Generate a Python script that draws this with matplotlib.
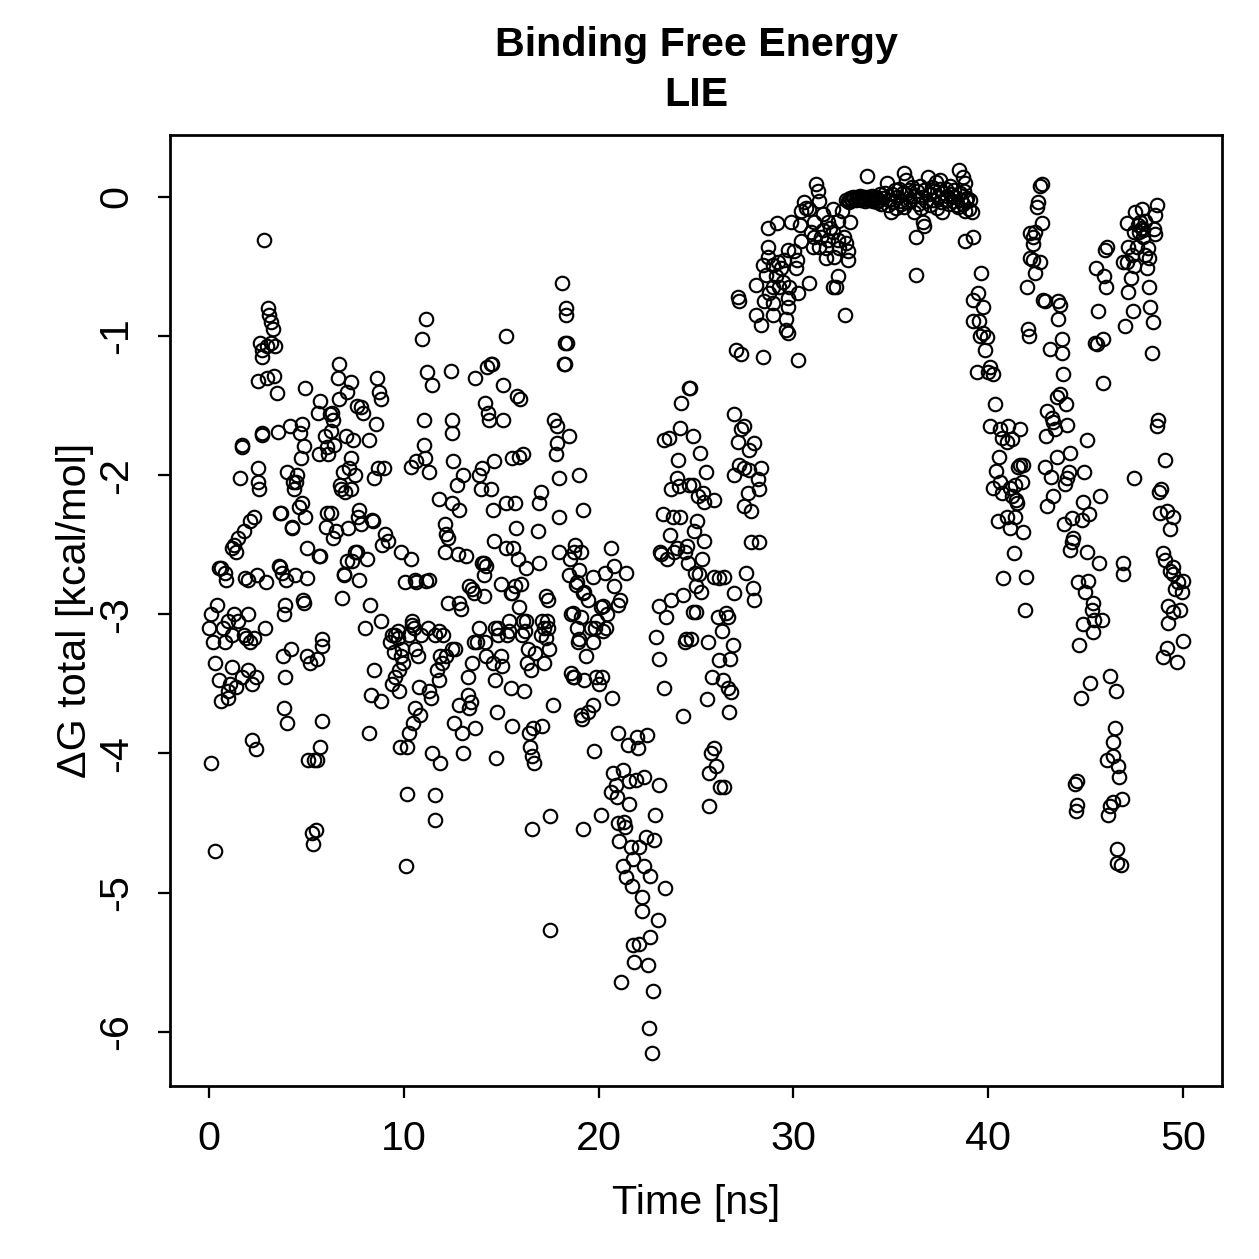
import numpy as np
import matplotlib
matplotlib.use("Agg")
import matplotlib.pyplot as plt

plt.rcParams['font.family'] = ['Liberation Sans', 'DejaVu Sans']
plt.rcParams['axes.unicode_minus'] = False

# (time [ns], dG [kcal/mol]), grouped by time window
seg_00_02 = [(0.1,-4.07),(0.3,-4.70),(0.0,-3.10),(0.1,-3.00),(0.2,-3.20),(0.3,-3.35),(0.4,-2.93),(0.5,-3.47),
    (0.6,-2.67),(0.6,-3.62),(0.7,-3.10),(0.8,-2.70),(0.8,-3.20),(0.9,-2.75),(1.0,-3.55),(1.0,-3.05),(1.0,-3.60),
    (1.1,-3.50),(1.2,-3.38),(1.2,-3.15),(1.3,-2.50),(1.3,-3.00),(1.4,-2.55),(1.4,-3.52),(1.5,-2.45),(1.5,-3.05),
    (1.6,-2.02),(1.7,-1.80),(1.7,-1.78),(1.7,-3.45),(1.8,-3.15),(1.8,-2.40),(1.9,-3.17),(2.0,-2.75),(2.0,-3.40),
    (2.0,-3.00),(2.1,-3.20),(2.2,-3.50),(2.2,-3.90),(2.3,-2.30),(2.3,-3.17),(2.4,-3.45),(2.4,-3.97),(2.1,-2.33),
    (1.18,-2.52),(1.84,-2.74),(0.51,-2.67)]
seg_02_05 = [(2.5,-1.95),(2.5,-2.05),(2.55,-2.1),(2.5,-1.32),(2.6,-1.05),(2.7,-1.1),(2.7,-1.15),(2.7,-1.7),
    (2.8,-0.31),(2.45,-2.72),(2.9,-3.1),(2.95,-2.77),(3.0,-1.07),(3.0,-1.3),(3.05,-0.8),(3.1,-0.85),(3.2,-0.9),
    (3.2,-1.05),(3.3,-0.95),(3.35,-1.29),(3.4,-1.07),(3.5,-1.41),(3.55,-1.69),(3.6,-2.65),(3.7,-2.27),(3.75,-2.7),
    (3.85,-3.0),(3.9,-2.93),(3.8,-3.3),(3.95,-2.75),(3.9,-3.45),(3.85,-3.67),(4.0,-3.78),(4.0,-1.98),(4.15,-1.65),
    (4.3,-2.05),(4.25,-2.37),(4.2,-3.25),(4.35,-2.1),(4.45,-2.05),(4.4,-2.72),(4.5,-2.0),(4.65,-1.7),(4.7,-1.88),
    (2.72,-1.71),(3.64,-2.27),(3.64,-2.66),(4.25,-2.38)]
seg_05_07 = [(4.76,-2.2),(4.8,-1.63),(4.85,-2.9),(4.9,-2.92),(5.05,-2.52),(4.92,-1.37),(4.95,-2.3),(5.05,-3.3),
    (5.2,-3.35),(5.1,-4.05),(5.3,-4.57),(5.35,-4.65),(5.4,-4.05),(5.5,-4.55),(5.55,-4.05),(5.55,-3.32),(5.6,-1.55),
    (5.65,-1.85),(5.7,-3.95),(5.8,-3.18),(5.8,-3.23),(5.65,-2.58),(5.8,-3.77),(5.7,-1.47),(6.05,-1.8),(5.95,-1.72),
    (6.0,-2.37),(6.1,-1.85),(6.05,-2.27),(6.2,-1.56),(6.25,-1.68),(6.35,-1.6),(6.3,-1.55),(6.35,-2.45),(6.4,-1.78),
    (6.5,-2.4),(6.6,-1.3),(5.02,-2.74),(4.87,-1.79),(4.61,-2.23),(5.69,-2.58),(6.28,-2.27)]
seg_07_09 = [(6.7,-1.2),(6.65,-1.45),(6.8,-2.1),(6.85,-2.88),(6.9,-1.98),(6.95,-2.72),(7.05,-1.72),(7.1,-1.4),
    (7.1,-2.62),(7.2,-1.95),(7.3,-1.88),(7.27,-1.33),(7.3,-2.1),(7.4,-1.75),(7.5,-2.55),(7.5,-2.0),(7.6,-2.55),
    (7.65,-2.3),(7.7,-2.25),(7.6,-1.5),(7.7,-2.75),(7.8,-2.35),(7.9,-1.55),(8.0,-3.1),(8.1,-2.6),(8.25,-2.93),
    (8.2,-1.75),(8.35,-2.32),(8.45,-2.02),(8.6,-1.3),(8.55,-1.63),(8.4,-2.33),(8.45,-3.4),(8.2,-3.85),(8.3,-3.58),
    (8.7,-1.95),(8.75,-1.4),(8.85,-1.45),(8.9,-2.5),(9.0,-1.95),(8.85,-3.05),(8.85,-3.62),(9.05,-2.42),(9.2,-2.47),
    (9.3,-3.2),(9.4,-3.15),(6.71,-2.07),(7.0,-2.12),(7.16,-2.38),(7.79,-1.51),(7.35,-2.62),(6.92,-2.71)]
seg_09_12 = [(9.4,-3.5),(9.5,-3.27),(9.55,-3.45),(9.55,-3.15),(9.7,-3.17),(9.7,-3.12),(9.75,-3.55),(9.8,-3.95),
    (9.75,-3.4),(9.85,-2.55),(9.85,-3.3),(9.9,-3.25),(9.95,-3.35),(10.1,-4.81),(10.15,-3.95),(10.15,-4.29),
    (10.05,-2.77),(10.25,-3.15),(10.35,-2.6),(10.35,-1.94),(10.4,-3.05),(10.25,-3.85),(10.45,-3.78),(10.55,-3.1),
    (10.6,-3.67),(10.6,-2.75),(10.6,-3.25),(10.75,-3.3),(10.65,-1.9),(10.8,-3.52),(10.85,-3.72),(10.95,-1.02),
    (10.9,-3.15),(11.05,-1.78),(11.05,-1.6),(11.1,-1.88),(11.15,-0.88),(11.2,-1.26),(11.3,-2.75),(11.3,-3.55),
    (11.4,-3.6),(11.45,-4.0),(11.6,-4.3),(11.6,-4.48),(11.45,-1.35),(11.6,-3.15),(11.7,-3.4),(11.8,-3.47),
    (11.85,-4.07),(11.85,-3.3),(11.8,-2.17),(11.32,-1.98),(11.15,-2.76),(10.62,-2.77),(10.4,-3.08),(11.25,-3.1),
    (11.8,-3.12)]
seg_12_15 = [(12.1,-2.35),(12.15,-2.42),(12.1,-2.55),(12.25,-2.92),(12.25,-2.45),(11.95,-3.35),(12.15,-3.3),
    (12.4,-1.25),(12.45,-2.2),(12.45,-1.6),(12.5,-1.7),(12.5,-3.25),(12.65,-3.25),(12.6,-3.78),(12.75,-2.07),
    (12.55,-1.9),(12.8,-2.57),(12.85,-2.25),(12.85,-2.92),(13.0,-3.85),(12.85,-3.65),(13.05,-4.0),(13.05,-2.0),
    (13.2,-2.58),(13.3,-3.45),(13.3,-3.58),(13.35,-3.67),(13.45,-3.63),(13.35,-2.8),(13.5,-3.35),(13.6,-2.85),
    (13.6,-3.2),(13.67,-3.82),(13.67,-1.3),(13.78,-3.2),(13.88,-2.0),(13.98,-2.1),(14.04,-1.95),(14.04,-2.63),
    (14.14,-2.87),(14.14,-2.63),(14.19,-3.2),(14.19,-1.48),(14.29,-1.22),(14.34,-1.55),(14.24,-3.3),(14.24,-2.65),
    (14.5,-1.2),(14.4,-1.6),(14.5,-2.1),(14.55,-1.2),(14.6,-2.25),(14.65,-1.9),(14.6,-3.35),(14.7,-3.47),
    (14.75,-4.03),(14.65,-2.47),(14.86,-3.1),(14.8,-3.7),(14.86,-3.15),(12.0,-3.15),(12.96,-2.96),(13.5,-2.82),
    (14.1,-2.72),(13.85,-3.1),(14.7,-3.1)]
seg_15_17 = [(15.0,-2.78),(15.0,-3.3),(15.05,-3.37),(15.1,-1.35),(15.25,-1.0),(15.25,-2.2),(15.25,-2.52),
    (15.3,-3.15),(15.4,-3.05),(15.5,-3.53),(15.55,-3.8),(15.55,-1.88),(15.55,-2.85),(15.7,-2.8),(15.7,-2.2),
    (15.8,-1.43),(15.75,-2.38),(15.98,-1.45),(15.93,-1.87),(15.88,-2.6),(15.93,-2.95),(16.14,-3.05),(16.19,-3.55),
    (16.09,-3.15),(16.29,-3.05),(16.24,-3.12),(16.29,-2.67),(16.34,-3.35),(16.44,-3.85),(16.39,-3.25),(16.6,-4.54),
    (16.5,-3.95),(16.6,-4.02),(16.7,-4.07),(16.65,-3.82),(16.75,-3.28),(16.55,-3.4),(16.96,-2.2),(16.91,-2.4),
    (17.06,-2.12),(17.06,-3.15),(17.11,-3.05),(17.21,-3.1),(17.21,-3.35),(17.11,-3.8),(17.31,-3.17),(17.37,-3.05),
    (17.47,-3.25),(17.42,-2.9),(17.52,-4.45),(17.52,-5.27),(17.42,-3.1),(15.11,-1.6),(16.14,-1.85),(15.62,-2.52),
    (16.0,-2.78),(15.5,-2.85),(15.4,-3.12),(16.96,-2.63),(17.32,-2.87)]
seg_17_20 = [(17.67,-3.65),(17.73,-1.6),(17.88,-1.65),(17.98,-2.55),(17.95,-2.3),(18.13,-0.62),(18.34,-0.8),
    (18.34,-0.85),(18.29,-1.05),(18.29,-1.2),(18.39,-1.05),(18.24,-1.2),(18.49,-1.72),(18.49,-2.72),(18.6,-3.0),
    (18.75,-2.55),(18.8,-2.5),(18.55,-2.6),(18.6,-3.42),(18.7,-3.45),(18.75,-3.45),(18.9,-2.77),(18.9,-3.1),
    (18.96,-3.2),(19.01,-2.0),(19.01,-3.18),(19.11,-2.55),(19.11,-3.72),(19.21,-2.85),(19.16,-3.75),(19.26,-3.47),
    (19.21,-4.54),(19.37,-3.3),(19.47,-3.7),(19.62,-3.1),(19.72,-3.65),(19.72,-3.2),(19.77,-3.98),(19.83,-3.1),
    (19.88,-3.45),(19.93,-3.05),(20.03,-3.5),(20.13,-2.95),(20.13,-4.44),(20.24,-3.12),(20.19,-3.45),
    (17.88,-1.77),(17.83,-1.85),(17.98,-2.02),(19.21,-2.25),(19.0,-2.68),(19.72,-2.73),(18.85,-2.79),
    (19.26,-2.84),(19.47,-2.9),(20.24,-2.94),(18.7,-2.99),(19.1,-3.02)]
seg_20_23 = [(20.34,-2.7),(20.44,-3.0),(20.39,-3.1),(20.65,-2.52),(20.7,-3.6),(20.65,-4.28),(20.8,-2.65),
    (20.75,-4.14),(20.9,-4.23),(20.95,-4.31),(21.41,-2.7),(21.1,-2.9),(20.8,-2.8),(21.0,-3.85),(21.06,-4.63),
    (21.16,-5.64),(21.0,-4.5),(21.26,-4.12),(21.26,-4.81),(21.31,-4.49),(21.36,-4.53),(21.41,-4.89),(21.5,-3.94),
    (21.57,-4.2),(21.57,-4.36),(21.67,-4.67),(21.72,-4.95),(21.77,-4.76),(21.77,-5.38),(21.82,-5.5),(21.93,-4.19),
    (21.98,-3.88),(22.03,-3.96),(22.08,-4.67),(22.08,-5.37),(22.23,-5.03),(22.23,-5.13),(22.34,-4.17),(22.34,-4.81),
    (22.44,-4.6),(22.49,-3.87),(22.54,-5.52),(22.59,-5.97),(22.64,-4.88),(22.64,-5.32),(22.75,-6.15),(22.8,-5.71),
    (22.85,-4.62),(22.9,-4.44),(22.95,-3.16),(23.05,-5.2),(23.1,-3.32),(23.1,-4.23),(23.1,-2.94),(23.41,-4.97),
    (23.36,-3.53),(23.46,-3.02),(23.16,-2.55),(23.21,-2.57),(23.31,-2.28),(23.34,-1.75),(21.0,-2.93)]
seg_23_27 = [(23.5,-2.6),(23.62,-1.73),(23.67,-2.43),(23.72,-2.1),(23.7,-2.9),(23.82,-2.3),(23.87,-2.55),
    (24.03,-2.02),(24.0,-2.52),(24.08,-1.89),(24.13,-2.08),(24.18,-1.66),(24.18,-2.3),(24.23,-1.48),(24.33,-3.73),
    (24.44,-3.2),(24.49,-3.18),(24.44,-2.55),(24.33,-2.86),(24.54,-2.51),(24.59,-2.63),(24.64,-1.37),(24.7,-1.37),
    (24.64,-2.07),(24.85,-1.72),(24.85,-2.98),(24.85,-2.07),(24.9,-2.4),(24.95,-2.7),(25.0,-2.8),(25.05,-2.33),
    (25.0,-2.98),(25.15,-2.71),(25.2,-1.84),(25.26,-2.84),(25.36,-2.13),(25.41,-2.19),(25.41,-2.47),(25.51,-1.98),
    (25.56,-3.61),(25.61,-3.2),(25.66,-4.14),(25.66,-4.38),(25.77,-4.0),(25.82,-3.45),(25.92,-2.73),(25.92,-2.18),
    (25.92,-3.96),(26.02,-4.09),(26.13,-3.02),(26.18,-2.74),(26.18,-3.33),(26.23,-4.24),(26.33,-3.12),(26.38,-3.47),
    (26.43,-2.73),(26.43,-4.24),(26.54,-2.99),(26.64,-3.02),(26.64,-3.53),(26.69,-3.7),(26.74,-3.32),(26.79,-3.56),
    (26.9,-3.22),(26.95,-2.85),(26.95,-1.56),(26.95,-2.0),(25.1,-2.15),(25.3,-2.6),(24.74,-3.18)]
seg_27_31 = [(27.05,-1.10),(27.3,-1.13),(27.15,-0.72),(27.2,-0.75),(27.46,-1.65),(27.3,-1.67),(27.15,-1.76),
    (27.97,-1.77),(27.71,-1.82),(27.2,-1.93),(27.46,-1.95),(27.71,-1.96),(28.33,-1.95),(28.17,-2.03),(28.23,-2.10),
    (27.66,-2.13),(27.46,-2.22),(27.82,-2.26),(27.82,-2.48),(28.23,-2.48),(27.56,-2.70),(27.92,-2.81),(27.97,-2.90),
    (28.07,-0.63),(28.07,-0.85),(28.33,-0.92),(28.43,-1.15),(28.43,-0.49),(28.48,-0.75),(28.58,-0.56),(28.69,-0.22),
    (28.69,-0.36),(28.69,-0.43),(28.74,-0.69),(28.94,-0.49),(28.94,-0.65),(28.94,-0.76),(28.94,-0.85),(29.1,-0.57),
    (29.15,-0.19),(29.2,-0.47),(29.25,-0.65),(29.35,-0.51),(29.45,-0.61),(29.5,-0.45),(29.61,-0.88),(29.61,-0.96),
    (29.71,-0.38),(29.71,-0.73),(29.71,-0.79),(29.71,-0.98),(29.76,-0.65),(29.87,-0.18),(30.02,-0.39),(30.12,-0.51),
    (30.17,-0.45),(30.22,-0.69),(30.22,-1.17),(30.33,-0.20),(30.38,-0.10),(30.38,-0.32),(30.53,-0.04),(30.64,-0.08),
    (30.79,-0.09),(30.79,-0.62),(30.89,-0.25)]
seg_31_33 = [(30.99,-0.36),(31.05,-0.18),(31.05,-0.29),(31.15,0.09),(31.25,0.04),(31.3,-0.03),(31.3,-0.36),
    (31.4,-0.29),(31.51,-0.24),(31.66,-0.37),(31.66,-0.44),(31.76,-0.18),(31.76,-0.31),(32.02,-0.09),(32.02,-0.25),
    (32.02,-0.65),(32.07,-0.43),(32.17,-0.65),(32.27,-0.17),(32.27,-0.31),(32.27,-0.57),(32.33,-0.37),(32.58,-0.29),
    (32.63,-0.85),(32.68,-0.33),(32.79,-0.39),(32.79,-0.45),(32.84,-0.04),(32.89,-0.18),(31.5,-0.12),(31.9,-0.22),
    (32.5,-0.1),(32.7,-0.02)]
seg_33_39 = [(32.8,-0.03),(32.9,-0.01),(33.0,-0.02),(33.05,0.0),(33.1,-0.01),(33.2,-0.02),(33.25,0.0),(33.3,-0.01),
    (33.4,0.01),(33.45,-0.02),(33.5,-0.01),(33.6,0.0),(33.65,-0.03),(33.7,-0.01),(33.8,0.15),(33.85,0.0),
    (33.9,-0.02),(34.0,-0.01),(34.05,0.01),(34.1,-0.03),(34.2,-0.01),(34.25,0.0),(34.3,-0.04),(34.4,-0.02),
    (34.45,0.02),(34.5,-0.05),(34.6,-0.01),(34.7,0.03),(34.8,0.1),(34.85,-0.06),(34.9,-0.02),(35.0,-0.11),
    (35.05,0.02),(35.1,-0.04),(35.2,0.05),(35.25,-0.08),(35.3,0.0),(35.4,0.06),(35.45,-0.03),(35.5,-0.05),
    (35.6,0.03),(35.66,0.17),(35.7,-0.07),(35.76,0.12),(35.8,0.02),(35.9,-0.04),(35.95,0.05),(36.0,-0.02),
    (36.1,0.07),(36.17,-0.11),(36.2,0.01),(36.27,-0.29),(36.3,-0.56),(36.35,0.04),(36.4,-0.05),(36.5,0.08),
    (36.53,-0.08),(36.6,0.0),(36.63,-0.18),(36.68,-0.21),(36.7,0.05),(36.8,-0.03),(36.89,0.14),(36.95,0.02),
    (37.0,-0.06),(37.1,0.07),(37.15,-0.02),(37.2,0.04),(37.3,0.11),(37.35,-0.08),(37.4,0.0),(37.5,0.06),
    (37.55,0.12),(37.6,-0.04),(37.65,-0.11),(37.7,0.03),(37.8,-0.02),(37.85,0.06),(37.9,0.01),(38.0,-0.05),
    (38.05,0.08),(38.1,0.02),(38.2,-0.03),(38.25,0.05),(38.3,0.0),(38.4,-0.06),(38.47,-0.07),(38.52,0.19),
    (38.55,0.03),(38.6,-0.02),(38.68,0.14),(38.75,0.04),(38.83,0.10),(38.9,-0.01),(39.0,-0.09),(39.09,-0.02),
    (39.19,-0.11)]
seg_39_42 = [(38.68,-0.05),(38.83,-0.10),(38.88,-0.02),(38.83,-0.32),(39.24,-0.29),(39.65,-0.55),(39.45,-0.69),
    (39.24,-0.74),(39.75,-0.79),(39.24,-0.89),(39.55,-0.89),(39.75,-0.98),(39.60,-1.00),(39.96,-1.01),(39.86,-1.10),
    (39.40,-1.26),(40.11,-1.22),(40.01,-1.26),(40.22,-1.27),(40.37,-1.49),(40.11,-1.65),(40.63,-1.67),(41.03,-1.65),
    (41.65,-1.67),(40.73,-1.73),(40.98,-1.76),(40.57,-1.87),(40.42,-1.97),(41.65,-1.93),(41.55,-1.94),(40.22,-2.09),
    (40.63,-2.05),(40.73,-2.13),(41.14,-2.09),(41.39,-2.07),(41.75,-2.05),(41.24,-2.15),(41.50,-2.20),(40.98,-2.30),
    (40.52,-2.33),(41.39,-2.30),(41.14,-2.38),(41.80,-2.41),(41.34,-2.56),(40.78,-2.74),(41.96,-2.73),(41.91,-2.97),
    (41.80,-1.93),(41.24,-1.74),(41.45,-2.18)]
seg_42_46 = [(42.01,-0.65),(42.06,-0.95),(42.11,-1.00),(42.78,0.09),(42.67,0.08),(42.57,-0.04),(42.52,-0.07),
    (42.78,-0.19),(42.16,-0.26),(42.42,-0.25),(42.32,-0.34),(42.32,-0.29),(42.16,-0.44),(42.32,-0.45),(42.67,-0.47),
    (42.42,-0.55),(42.83,-0.74),(42.93,-0.75),(43.60,-0.75),(43.70,-0.78),(43.60,-0.88),(43.19,-1.09),(43.80,-1.02),
    (43.80,-1.12),(43.85,-1.27),(43.55,-1.44),(43.70,-1.42),(44.01,-1.49),(43.03,-1.54),(43.29,-1.59),(43.34,-1.62),
    (44.06,-1.64),(43.44,-1.67),(42.98,-1.72),(45.08,-1.75),(43.55,-1.87),(44.21,-1.84),(42.93,-1.94),(43.24,-2.01),
    (44.16,-1.98),(44.06,-2.02),(43.95,-2.06),(44.93,-1.98),(43.34,-2.15),(43.03,-2.22),(44.88,-2.19),(45.18,-2.28),
    (43.90,-2.35),(44.31,-2.31),(44.83,-2.32),(44.36,-2.45),(44.31,-2.48),(44.21,-2.54),(45.08,-2.55),(45.70,-2.63),
    (44.62,-2.77),(45.13,-2.76),(44.98,-2.84),(45.39,-2.92),(45.34,-2.97),(45.44,-3.04),(45.85,-3.04),(44.88,-3.07),
    (45.39,-3.13),(44.67,-3.22),(45.24,-3.49),(44.77,-3.60),(44.57,-4.20),(44.47,-4.22),(44.57,-4.37),(44.52,-4.41),
    (45.75,-2.15),(45.54,-0.51),(45.95,-0.57),(46.06,-0.65),(46.11,-0.36),(46.00,-0.38),(45.65,-0.82),(45.59,-1.06),
    (45.90,-1.02),(45.49,-1.05),(45.90,-1.34)]
seg_46_48 = [(46.93,-2.63),(46.93,-2.71),(46.26,-3.44),(46.57,-3.55),(46.52,-3.82),(46.41,-3.92),(46.11,-4.05),
    (46.41,-4.02),(46.67,-4.09),(46.72,-4.17),(46.88,-4.33),(46.41,-4.35),(46.26,-4.38),(46.16,-4.44),(46.62,-4.69),
    (46.62,-4.79),(46.82,-4.80),(48.67,-0.06),(48.57,-0.13),(47.90,-0.09),(47.54,-0.11),(47.13,-0.19),(47.69,-0.20),
    (47.90,-0.22),(47.49,-0.25),(47.95,-0.24),(48.52,-0.23),(48.57,-0.27),(47.95,-0.29),(47.18,-0.36),(47.64,-0.36),
    (48.21,-0.37),(47.39,-0.42),(48.05,-0.42),(48.26,-0.44),(46.93,-0.47),(47.13,-0.47),(47.49,-0.50),(48.16,-0.51),
    (47.34,-0.58),(47.18,-0.68),(48.26,-0.65),(47.44,-0.82),(48.31,-0.79),(48.46,-0.90),(47.03,-0.93),(48.41,-1.12),
    (47.8,-0.18),(48.05,-0.17),(47.75,-0.25),(47.49,-2.02)]
seg_48_50 = [(48.72,-1.60),(48.67,-1.65),(49.08,-1.89),(48.87,-2.10),(48.77,-2.12),(48.82,-2.27),(49.18,-2.26),
    (49.49,-2.30),(49.33,-2.39),(48.98,-2.56),(49.08,-2.61),(49.49,-2.66),(49.33,-2.69),(49.49,-2.71),(50.00,-2.76),
    (49.74,-2.77),(49.59,-2.82),(49.95,-2.84),(49.23,-2.94),(49.85,-2.97),(49.49,-2.98),(49.23,-3.06),(50.00,-3.19),
    (49.18,-3.24),(48.98,-3.31),(49.69,-3.34)]

segments = [seg_00_02, seg_02_05, seg_05_07, seg_07_09, seg_09_12, seg_12_15, seg_15_17, seg_17_20,
            seg_20_23, seg_23_27, seg_27_31, seg_31_33, seg_33_39, seg_39_42, seg_42_46, seg_46_48, seg_48_50]
pts = np.array([p for s in segments for p in s])
time = pts[:, 0]
dG = pts[:, 1]

x_ticks = [0, 10, 20, 30, 40, 50]
y_ticks = [-6, -5, -4, -3, -2, -1, 0]

W = H = 1259
FS = 16.5
fig = plt.figure(figsize=(W / 180, H / 180), dpi=180)
ax = fig.add_axes([170 / W, 1 - 1086 / H, (1222 - 170) / W, (1086 - 135) / H])
ax.plot(time, dG, linestyle='none', marker='o', markersize=5.4, markerfacecolor='none',
        markeredgecolor='black', markeredgewidth=0.85)
ax.set_xlim(-2, 52)
ax.set_ylim(-6.39, 0.445)
ax.set_xticks(x_ticks)
ax.set_xticklabels([str(v) for v in x_ticks])
ax.set_yticks(y_ticks)
ax.set_yticklabels([str(v) for v in y_ticks], rotation=90, va='center')
ax.tick_params(axis='both', direction='out', length=4.8, width=0.9, labelsize=FS)
ax.tick_params(axis='x', pad=9)
ax.tick_params(axis='y', pad=9)
for sp in ax.spines.values():
    sp.set_linewidth(1.1)
fig.text(696 / W, 1 - 45 / H, 'Binding Free Energy', ha='center', va='center', fontsize=FS, fontweight='bold')
fig.text(696 / W, 1 - 95 / H, 'LIE', ha='center', va='center', fontsize=FS, fontweight='bold')
fig.text(696 / W, 1 - 1203 / H, 'Time [ns]', ha='center', va='center', fontsize=FS)
fig.text(75 / W, 1 - 610 / H, 'ΔG total [kcal/mol]', ha='center', va='center', rotation=90, fontsize=FS)
fig.savefig('out.png', dpi=180)
